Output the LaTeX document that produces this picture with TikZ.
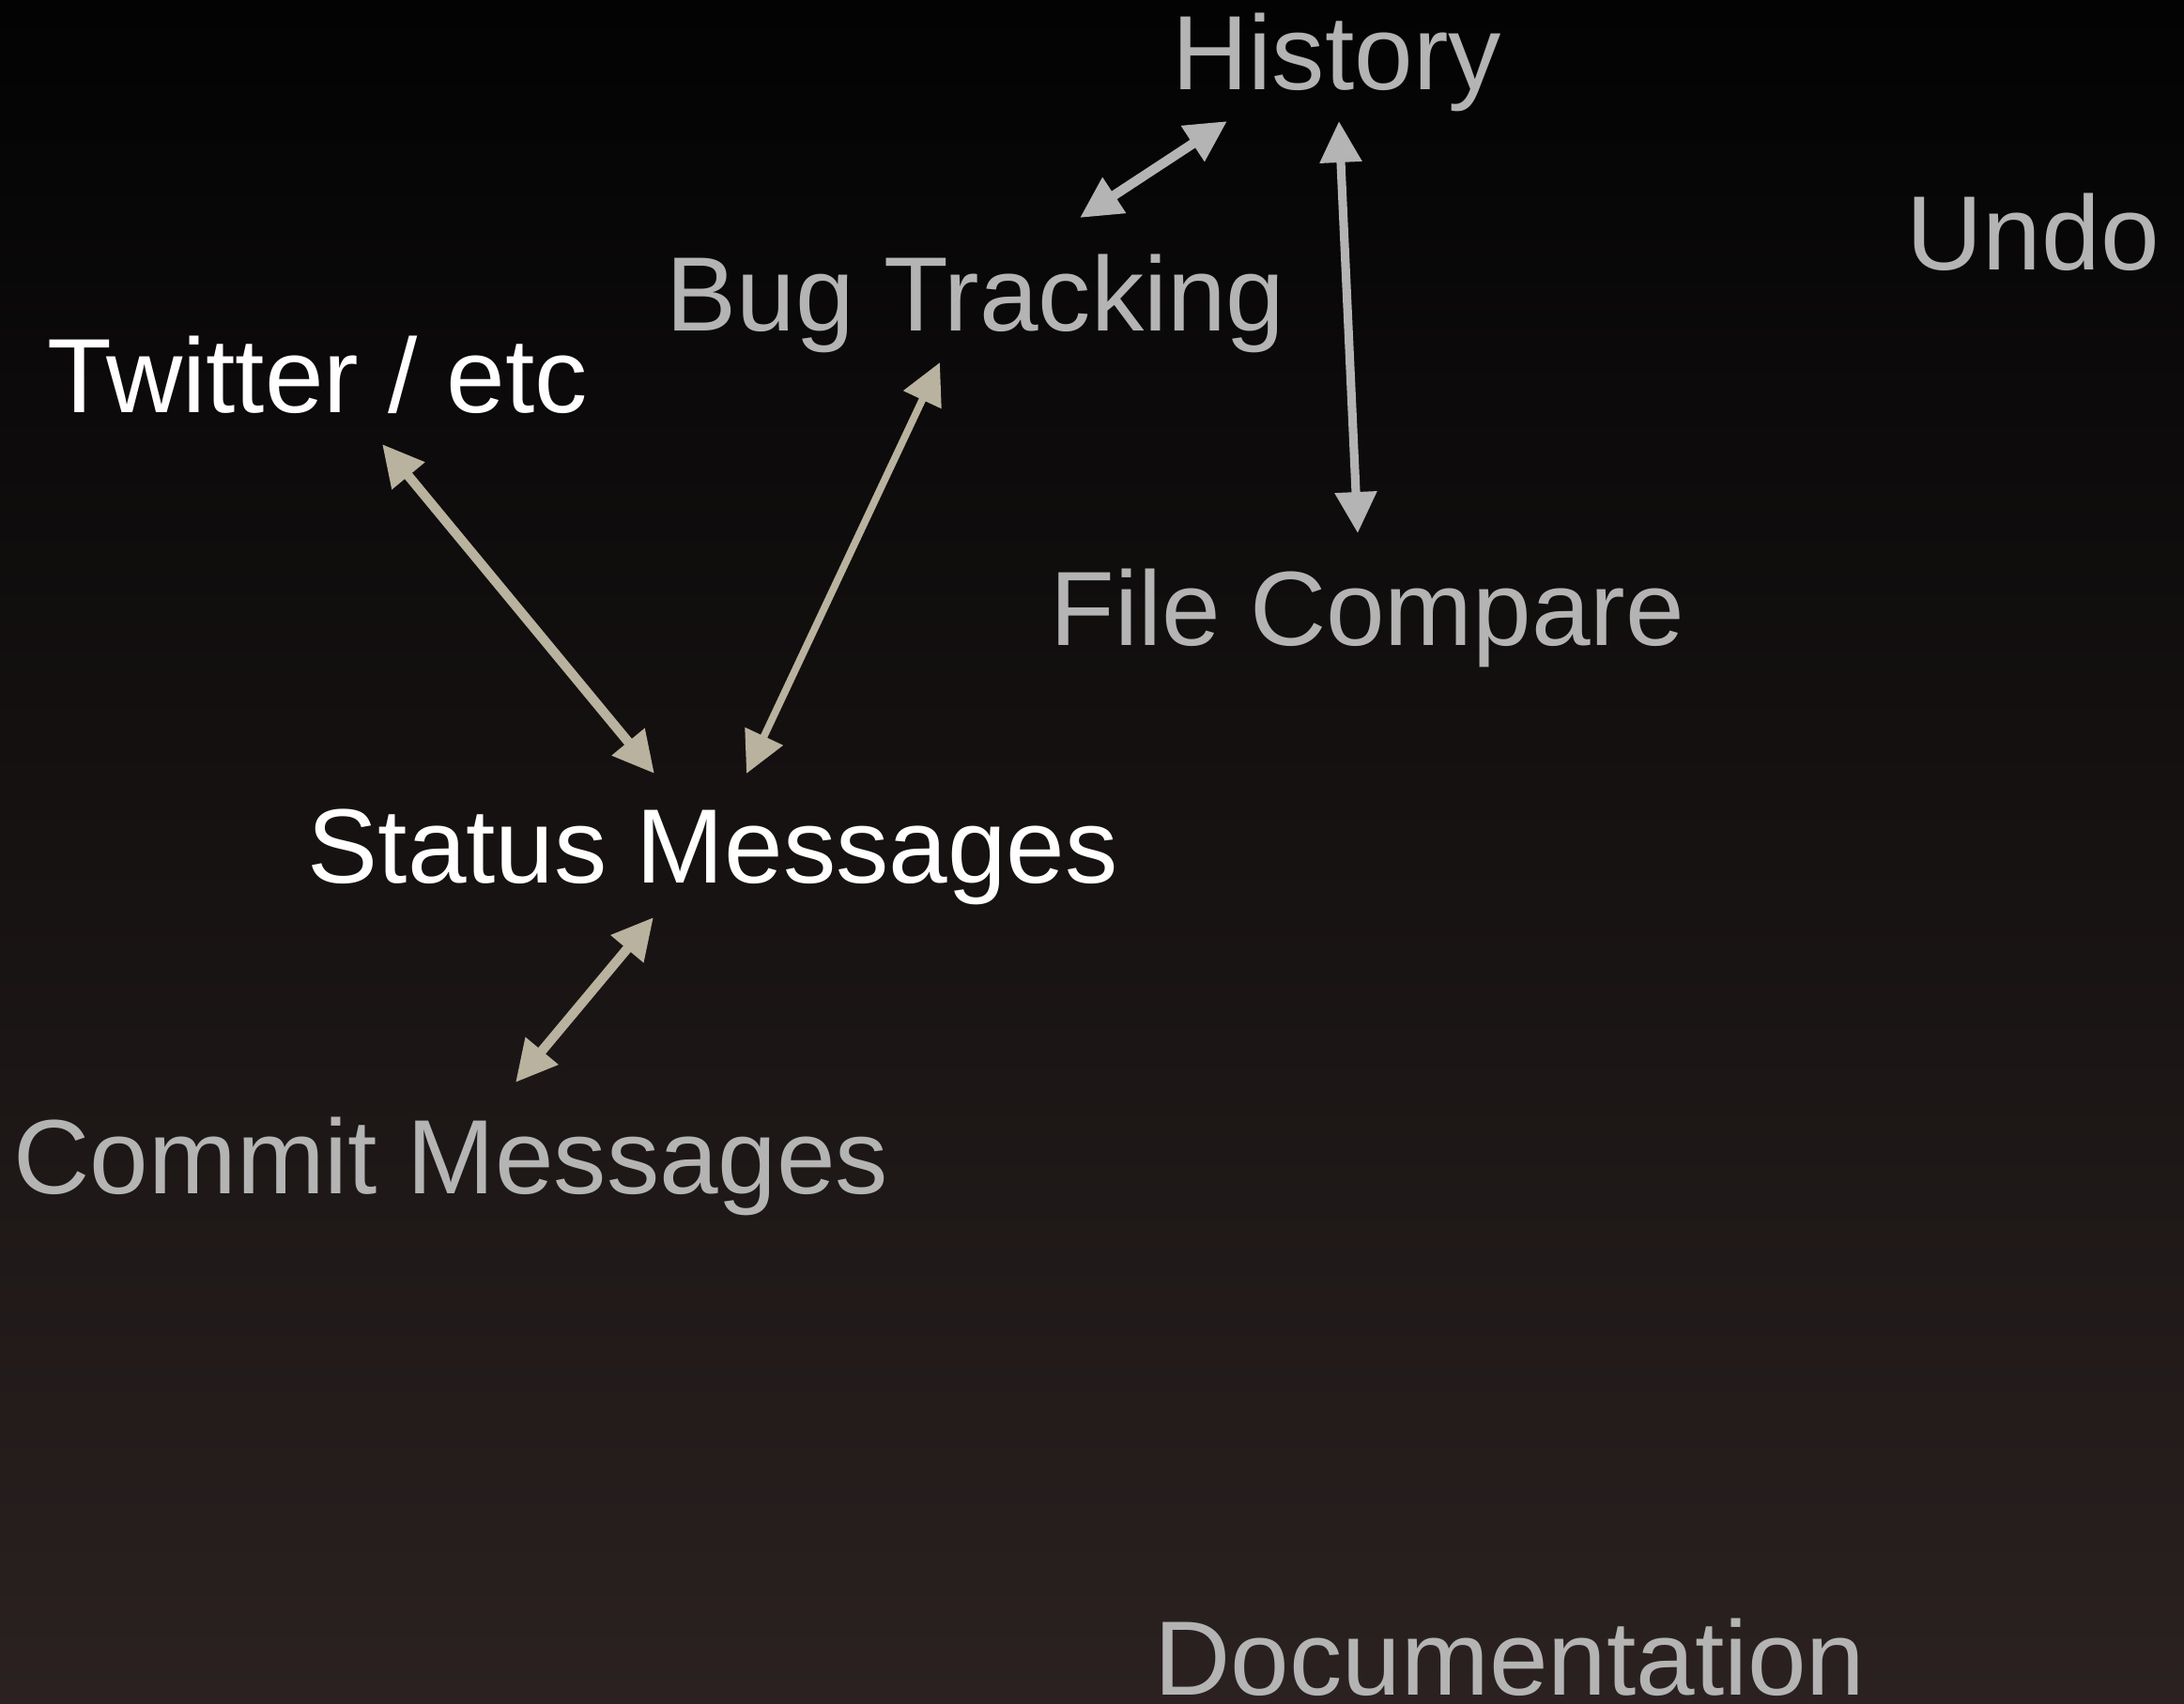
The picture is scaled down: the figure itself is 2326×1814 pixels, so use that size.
\documentclass[tikz,border=0pt]{standalone}
\usepackage{fontspec}
\setmainfont{Liberation Sans}
\usepackage{tikz}
\usetikzlibrary{arrows.meta,calc}
\definecolor{labelgray}{RGB}{180,180,180}
\definecolor{arrowtan}{RGB}{184,178,158}
\definecolor{bgtop}{RGB}{3,3,4}
\definecolor{bgbottom}{RGB}{42,33,32}

\begin{document}
\begin{tikzpicture}[x = 0.01cm, y = -0.01cm,
  word/.style = {anchor=base west, inner sep=0pt, font=\fontsize{32}{38}\selectfont},
  bright/.style = {word, text=white},
  faded/.style = {word, text=labelgray},
  link/.style = {{Triangle[length=12.5pt,width=12.2pt]}-{Triangle[length=12.5pt,width=12.2pt]}, line width=2.9pt, draw=arrowtan},
  greylink/.style = {link, draw=labelgray}]
\shade[top color=bgtop, bottom color=bgbottom] (0,0) rectangle (2326,1814);
\useasboundingbox (0,0) rectangle (2326,1814);

\node[faded] (H) at (1248, 95) {History};
\node[faded] (U) at (2030, 287) {Undo};
\node[faded] (B) at (709, 352) {Bug Tracking};
\node[bright] (T) at (50, 439) {Twitter / etc};
\node[faded] (F) at (1118, 687) {File Compare};
\node[bright] (S) at (327, 940) {Status Messages};
\node[faded] (C) at (14, 1271) {Commit Messages};
\node[faded] (D) at (1229, 1805) {Documentation};

\draw[greylink] ($(B.base west)+(441,-120)$) -- ($(H.base west)+(59,34)$);
\draw[greylink, line width=2.6pt] ($(H.base west)+(178,34)$) -- ($(F.base west)+(328,-119)$);
\draw[link] ($(T.base west)+(357,34)$) -- ($(S.base west)+(370,-116)$);
\draw[link, line width=2.2pt] ($(B.base west)+(292,34)$) -- ($(S.base west)+(468,-116)$);
\draw[link] ($(S.base west)+(369,37)$) -- ($(C.base west)+(535,-118)$);

\end{tikzpicture}
\end{document}
